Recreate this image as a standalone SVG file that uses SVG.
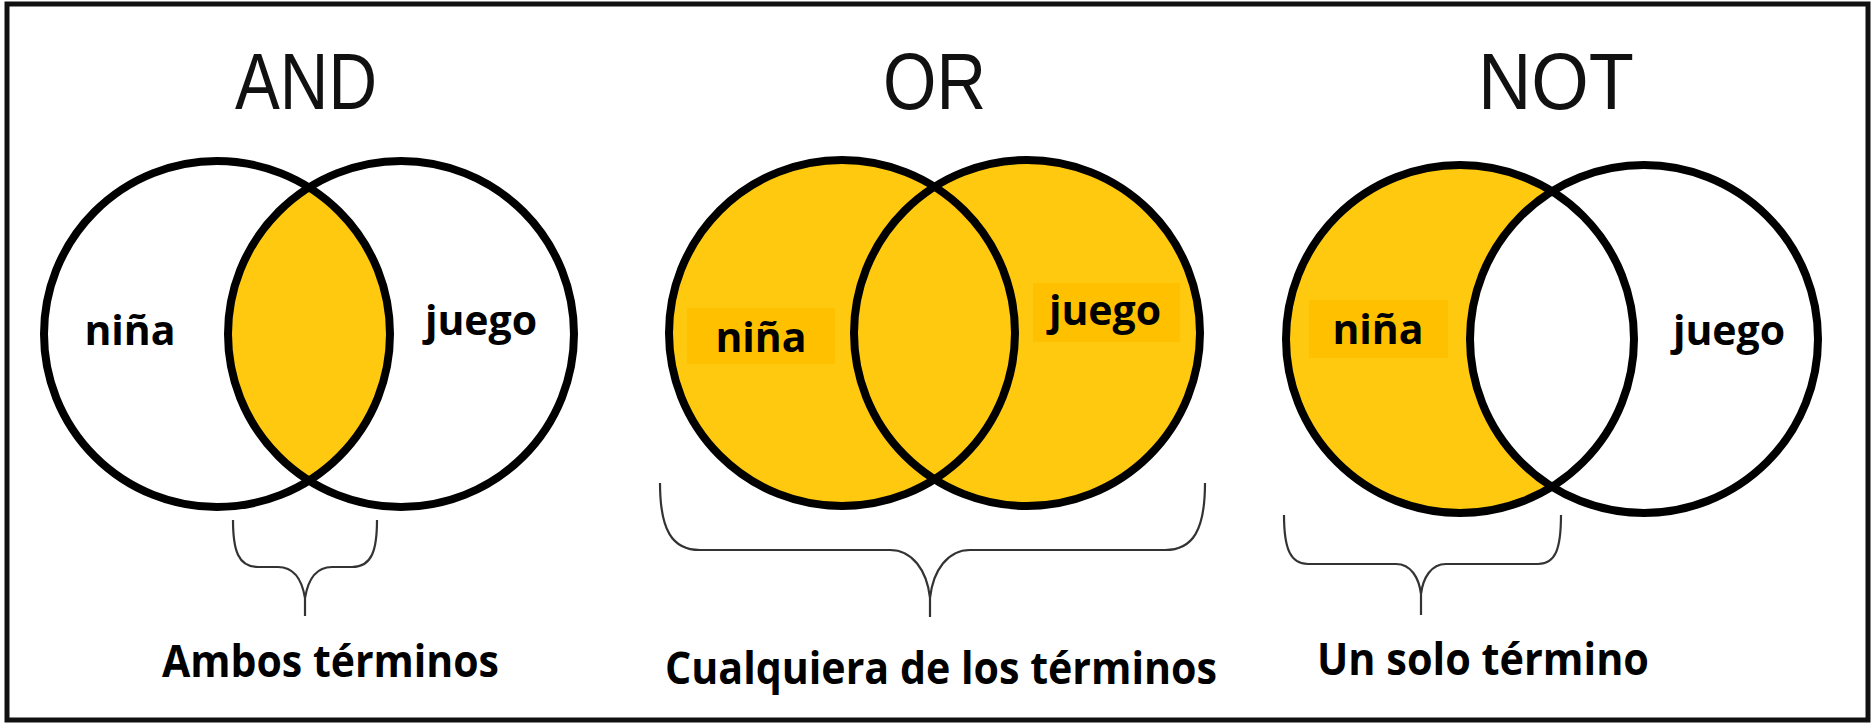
<svg xmlns="http://www.w3.org/2000/svg" width="1876" height="727" viewBox="0 0 1876 727">
  <style>
    .ring { fill: none; stroke: #000; stroke-width: 8; }
    .title { font-family: "Liberation Sans", Arial, sans-serif; font-size: 79px; fill: #111; }
    .lbl { font-family: "Open Sans", "Liberation Sans", sans-serif; font-weight: bold; font-size: 41px; fill: #000; text-anchor: middle; }
    .cap { font-family: "Open Sans", "Liberation Sans", sans-serif; font-weight: bold; font-size: 44px; fill: #000; }
    .brace { fill: none; stroke: #333; stroke-width: 2.2; stroke-linejoin: round; }
    .yel { fill: #FFC910; }
    .box { fill: #FFC000; }
  </style>
  <defs>
    <clipPath id="andClip"><circle cx="217" cy="334" r="173"/></clipPath>
  </defs>

  <rect x="0" y="0" width="1876" height="727" fill="#fff"/>
  <rect id="frame" x="7" y="4" width="1861" height="716" fill="none" stroke="#111" stroke-width="5"/>

  <g id="and-panel">
    <text class="title" x="235" y="109" textLength="142" lengthAdjust="spacingAndGlyphs">AND</text>
    <circle cx="401" cy="334" r="173" class="yel" clip-path="url(#andClip)"/>
    <circle id="and-nina" cx="217" cy="334" r="173" class="ring"/>
    <circle id="and-juego" cx="401" cy="334" r="173" class="ring"/>
    <text class="lbl" x="130" y="345">niña</text>
    <text class="lbl" x="481" y="335">juego</text>
    <text class="cap" x="162" y="677" textLength="337" lengthAdjust="spacingAndGlyphs">Ambos términos</text>
  </g>

  <g id="or-panel">
    <text class="title" x="883" y="109" textLength="103" lengthAdjust="spacingAndGlyphs">OR</text>
    <circle cx="842" cy="333" r="173" class="yel"/>
    <circle cx="1027" cy="333" r="173" class="yel"/>
    <rect class="box" x="687" y="308" width="148" height="56"/>
    <rect class="box" x="1033" y="283" width="147" height="59"/>
    <circle id="or-nina" cx="842" cy="333" r="173" class="ring"/>
    <circle id="or-juego" cx="1027" cy="333" r="173" class="ring"/>
    <text class="lbl" x="761" y="352">niña</text>
    <text class="lbl" x="1105" y="325">juego</text>
    <text class="cap" x="665" y="684" textLength="552" lengthAdjust="spacingAndGlyphs">Cualquiera de los términos</text>
  </g>

  <g id="not-panel">
    <text class="title" x="1478" y="109" textLength="156" lengthAdjust="spacingAndGlyphs">NOT</text>
    <circle cx="1460" cy="339" r="174" class="yel"/>
    <circle cx="1644" cy="339" r="174" fill="#fff"/>
    <rect class="box" x="1309" y="300" width="139" height="58"/>
    <circle id="not-nina" cx="1460" cy="339" r="174" class="ring"/>
    <circle id="not-juego" cx="1644" cy="339" r="174" class="ring"/>
    <text class="lbl" x="1378" y="344">niña</text>
    <text class="lbl" x="1729" y="345">juego</text>
    <text class="cap" x="1317" y="675" textLength="332" lengthAdjust="spacingAndGlyphs">Un solo término</text>
  </g>

  <g id="braces">
    <path class="brace" d="M233,520 C233,550 238,567 258,567 L278,567 C294,567 302,580 305,598 C308,580 316,567 332,567 L352,567 C372,567 377,550 377,520 M305,598 L305,616"/>
    <path class="brace" d="M660,483 C660,530 672,550 700,550 L890,550 C912,550 927,570 930,598 C933,570 948,550 970,550 L1165,550 C1193,550 1205,530 1205,483 M930,598 L930,617"/>
    <path class="brace" d="M1284,515 C1284,550 1291,564 1308,564 L1396,564 C1411,564 1419,578 1421,594 C1423,578 1431,564 1446,564 L1538,564 C1555,564 1561,550 1561,515 M1421,594 L1421,615"/>
  </g>
</svg>
